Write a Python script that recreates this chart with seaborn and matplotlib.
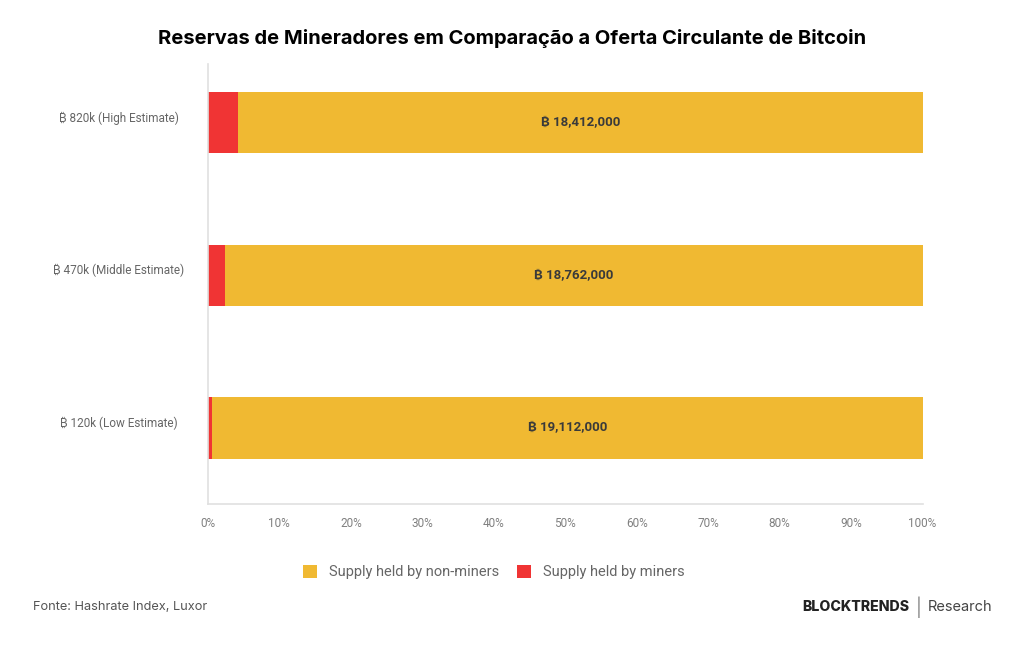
import matplotlib
matplotlib.use("Agg")
import matplotlib.pyplot as plt
import matplotlib.transforms as mtransforms
import seaborn as sns
import pandas as pd
from matplotlib.patches import Patch

categories = ["₿ 820k (High Estimate)", "₿ 470k (Middle Estimate)", "₿ 120k (Low Estimate)"]
miners = [820000, 470000, 120000]
non_miners = [18412000, 18762000, 19112000]
tick_labels = ["0%", "10%", "20%", "30%", "40%", "50%", "60%", "70%", "80%", "90%", "100%"]

YELLOW = "#F0B932"
RED = "#F03434"
FAMS = ['Roboto', 'Inter', 'Noto Sans', 'Open Sans', 'Lato', 'DejaVu Sans']

sns.set_theme(style="white")
plt.rcParams['font.family'] = FAMS

totals = [m + n for m, n in zip(miners, non_miners)]
df = pd.DataFrame({
    "cat": categories,
    "miners_pct": [m / t * 100 for m, t in zip(miners, totals)],
    "total_pct": [100.0 for _ in totals],
    "non_miners": non_miners,
})

fig = plt.figure(figsize=(10.24, 6.45), dpi=100)
ax = fig.add_axes([0.203, 0.218, 0.698, 0.682])

sns.barplot(data=df, y="cat", x="total_pct", color=YELLOW, orient="h", ax=ax,
            width=0.4, saturation=1, linewidth=0)
sns.barplot(data=df, y="cat", x="miners_pct", color=RED, orient="h", ax=ax,
            width=0.4, saturation=1, linewidth=0)

for i, row in df.iterrows():
    cx = (row["miners_pct"] + 100) / 2
    ax.text(cx, i, f"₿ {row['non_miners']:,}", ha="center", va="center",
            fontsize=9.5, fontweight="bold", color="#3a3a3a", family=FAMS)

ax.set_xlim(0, 100)
ax.set_ylim(2.5, -0.38)
ax.set_xticks(range(0, 101, 10))
ax.set_xticklabels(tick_labels, fontsize=8.5, color="#808080")
ax.tick_params(axis="y", labelsize=8.5, labelcolor="#666666", length=0, pad=0)
ax.tick_params(axis="x", length=0, pad=9)
ax.set_xlabel("")
ax.set_ylabel("")
for s in ["top", "right"]:
    ax.spines[s].set_visible(False)
for s in ["left", "bottom"]:
    ax.spines[s].set_color("#E0E0E0")
    ax.spines[s].set_linewidth(1.2)

shift = mtransforms.ScaledTranslation(0, 6 / 100, fig.dpi_scale_trans)
for lbl in ax.get_yticklabels():
    lbl.set_horizontalalignment("center")
    lbl.set_x(-0.125)
    lbl.set_transform(lbl.get_transform() + shift)

fig.text(0.5, 0.94, "Reservas de Mineradores em Comparação a Oferta Circulante de Bitcoin",
         ha="center", va="center", fontsize=14.5, fontweight="bold", color="black",
         family=['Inter', 'DejaVu Sans'])

handles = [Patch(facecolor=YELLOW, edgecolor="none"), Patch(facecolor=RED, edgecolor="none")]
fig.legend(handles, ["Supply held by non-miners", "Supply held by miners"],
           loc="center", bbox_to_anchor=(0.482, 0.113), ncol=2, frameon=False,
           fontsize=10.5, labelcolor="#666666", handlelength=1.0, handleheight=1.0,
           columnspacing=1.2, handletextpad=0.8)

fig.text(0.032, 0.059, "Fonte: Hashrate Index, Luxor", ha="left", va="center",
         fontsize=9.2, color="#555555", family=['Inter', 'DejaVu Sans'])
fig.text(0.888, 0.059, "BLOCKTRENDS", ha="right", va="center", fontsize=10.2,
         fontweight="heavy", color="#222222", family=['Inter', 'DejaVu Sans'])
fig.text(0.897, 0.059, "|", ha="center", va="center", fontsize=13, color="#888888",
         family=['Inter', 'DejaVu Sans'])
fig.text(0.906, 0.059, "Research", ha="left", va="center", fontsize=10.5,
         color="#444444", family=['Inter', 'DejaVu Sans'])

fig.savefig("out.png", dpi=100, facecolor="white")
